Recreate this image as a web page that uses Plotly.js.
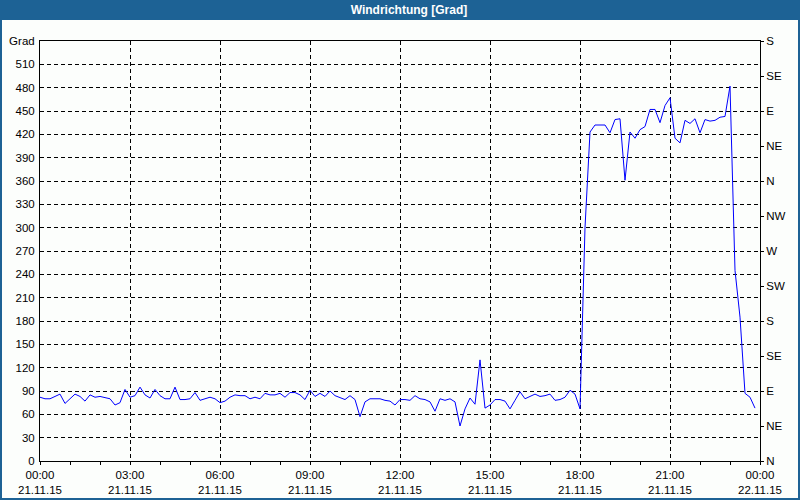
<!DOCTYPE html>
<html>
<head>
<meta charset="utf-8">
<script src="https://cdn.plot.ly/plotly-3.0.1.min.js"></script>
<style>
  html, body { margin: 0; padding: 0; background: #fcfefc; }
  #chart { width: 800px; height: 500px; }
</style>
</head>
<body>
<div id="chart"></div>
<script>
// ---- data ----
const times = [
"2015-11-21 00:00","2015-11-21 00:10","2015-11-21 00:20","2015-11-21 00:30","2015-11-21 00:40","2015-11-21 00:50",
"2015-11-21 01:00","2015-11-21 01:10","2015-11-21 01:20","2015-11-21 01:30","2015-11-21 01:40","2015-11-21 01:50",
"2015-11-21 02:00","2015-11-21 02:10","2015-11-21 02:20","2015-11-21 02:30","2015-11-21 02:40","2015-11-21 02:50",
"2015-11-21 03:00","2015-11-21 03:10","2015-11-21 03:20","2015-11-21 03:30","2015-11-21 03:40","2015-11-21 03:50",
"2015-11-21 04:00","2015-11-21 04:10","2015-11-21 04:20","2015-11-21 04:30","2015-11-21 04:40","2015-11-21 04:50",
"2015-11-21 05:00","2015-11-21 05:10","2015-11-21 05:20","2015-11-21 05:30","2015-11-21 05:40","2015-11-21 05:50",
"2015-11-21 06:00","2015-11-21 06:10","2015-11-21 06:20","2015-11-21 06:30","2015-11-21 06:40","2015-11-21 06:50",
"2015-11-21 07:00","2015-11-21 07:10","2015-11-21 07:20","2015-11-21 07:30","2015-11-21 07:40","2015-11-21 07:50",
"2015-11-21 08:00","2015-11-21 08:10","2015-11-21 08:20","2015-11-21 08:30","2015-11-21 08:40","2015-11-21 08:50",
"2015-11-21 09:00","2015-11-21 09:10","2015-11-21 09:20","2015-11-21 09:30","2015-11-21 09:40","2015-11-21 09:50",
"2015-11-21 10:00","2015-11-21 10:10","2015-11-21 10:20","2015-11-21 10:30","2015-11-21 10:40","2015-11-21 10:50",
"2015-11-21 11:00","2015-11-21 11:10","2015-11-21 11:20","2015-11-21 11:30","2015-11-21 11:40","2015-11-21 11:50",
"2015-11-21 12:00","2015-11-21 12:10","2015-11-21 12:20","2015-11-21 12:30","2015-11-21 12:40","2015-11-21 12:50",
"2015-11-21 13:00","2015-11-21 13:10","2015-11-21 13:20","2015-11-21 13:30","2015-11-21 13:40","2015-11-21 13:50",
"2015-11-21 14:00","2015-11-21 14:10","2015-11-21 14:20","2015-11-21 14:30","2015-11-21 14:40","2015-11-21 14:50",
"2015-11-21 15:00","2015-11-21 15:10","2015-11-21 15:20","2015-11-21 15:30","2015-11-21 15:40","2015-11-21 15:50",
"2015-11-21 16:00","2015-11-21 16:10","2015-11-21 16:20","2015-11-21 16:30","2015-11-21 16:40","2015-11-21 16:50",
"2015-11-21 17:00","2015-11-21 17:10","2015-11-21 17:20","2015-11-21 17:30","2015-11-21 17:40","2015-11-21 17:50",
"2015-11-21 18:00","2015-11-21 18:10","2015-11-21 18:20","2015-11-21 18:30","2015-11-21 18:40","2015-11-21 18:50",
"2015-11-21 19:00","2015-11-21 19:10","2015-11-21 19:20","2015-11-21 19:30","2015-11-21 19:40","2015-11-21 19:50",
"2015-11-21 20:00","2015-11-21 20:10","2015-11-21 20:20","2015-11-21 20:30","2015-11-21 20:40","2015-11-21 20:50",
"2015-11-21 21:00","2015-11-21 21:10","2015-11-21 21:20","2015-11-21 21:30","2015-11-21 21:40","2015-11-21 21:50",
"2015-11-21 22:00","2015-11-21 22:10","2015-11-21 22:20","2015-11-21 22:30","2015-11-21 22:40","2015-11-21 22:50",
"2015-11-21 23:00","2015-11-21 23:10","2015-11-21 23:20","2015-11-21 23:30","2015-11-21 23:40","2015-11-21 23:50"
];

const windDir = [
82, 80, 80, 83, 86, 74, 80, 86, 83, 77, 85, 82,
83, 81, 80, 72, 75, 92, 82, 84, 95, 85, 81, 92,
84, 80, 80, 95, 79, 79, 80, 88, 78, 80, 82, 80,
75, 77, 82, 85, 84, 84, 80, 82, 80, 87, 85, 85,
87, 82, 88, 88, 85, 79, 91, 83, 87, 83, 90, 84,
81, 79, 84, 79, 57, 76, 80, 80, 80, 78, 77, 72,
79, 79, 78, 84, 80, 79, 76, 64, 80, 78, 80, 76,
45, 67, 81, 73, 130, 68, 72, 79, 79, 77, 67, 78,
89, 80, 83, 86, 83, 84, 86, 78, 79, 82, 91, 86,
67, 300, 423, 432, 432, 432, 422, 439, 440, 361, 423, 415,
426, 430, 452, 452, 435, 457, 467, 415, 409, 438, 434, 440,
422, 439, 437, 438, 442, 443, 482, 245, 185, 87, 82, 68
];

const xRange = ["2015-11-21 00:00", "2015-11-22 00:00"];
const gradTickVals = [0,30,60,90,120,150,180,210,240,270,300,330,360,390,420,450,480,510,540];
const gradTickText = ["0","30","60","90","120","150","180","210","240","270","300","330","360","390","420","450","480","510","Grad"];
const dirTickVals = [0,45,90,135,180,225,270,315,360,405,450,495,540];
const dirTickText = ["N","NE","E","SE","S","SW","W","NW","N","NE","E","SE","S"];
const chartTitle = "Windrichtung [Grad]";

// ---- chart ----
const FONT = "Liberation Sans, Arial, sans-serif";
const BLUE = "#1d6295";
const W = 800, H = 500, ML = 40, MR = 40, MT = 41, MB = 39;
const pw = W - ML - MR, ph = H - MT - MB;

const traces = [
  {
    x: times, y: windDir, type: "scatter", mode: "lines",
    line: { color: "#0000ff", width: 1 },
    xaxis: "x", yaxis: "y", hoverinfo: "skip", showlegend: false
  },
  {
    x: times, y: windDir, type: "scatter", mode: "lines",
    line: { color: "rgba(0,0,0,0)", width: 0 },
    xaxis: "x", yaxis: "y2", hoverinfo: "skip", showlegend: false
  }
];

const grid = { showgrid: true, gridcolor: "#000000", gridwidth: 1, griddash: "4px,3px" };

const layout = {
  width: W, height: H,
  margin: { l: ML, r: MR, t: MT, b: MB, pad: 0 },
  paper_bgcolor: "#fcfefc",
  plot_bgcolor: "#fcfefc",
  showlegend: false,
  font: { family: FONT, size: 11.5, color: "#000000" },
  title: {
    text: chartTitle,
    font: { family: FONT, size: 12, color: "#ffffff", weight: "bold" },
    x: 409 / W, xref: "container", xanchor: "center",
    y: 1 - 10 / H, yref: "container", yanchor: "middle"
  },
  xaxis: Object.assign({
    type: "date",
    range: xRange,
    tick0: xRange[0],
    dtick: 3 * 3600000,
    tickformat: "%H:%M<br>%d.%m.%y",
    ticks: "outside", ticklen: 3, tickcolor: "#000000", tickwidth: 1,
    minor: { dtick: 3600000, ticks: "outside", ticklen: 3, tickcolor: "#000000", showgrid: false },
    showline: true, linecolor: "#000000", linewidth: 1, mirror: true,
    zeroline: false, fixedrange: true,
    tickfont: { family: FONT, size: 11.5, color: "#000000" }
  }, grid),
  yaxis: Object.assign({
    range: [0, 540],
    tickmode: "array", tickvals: gradTickVals, ticktext: gradTickText,
    ticks: "", ticklabelstandoff: 2,
    showline: true, linecolor: "#000000", linewidth: 1,
    zeroline: false, fixedrange: true,
    tickfont: { family: FONT, size: 11.5, color: "#000000" }
  }, grid),
  yaxis2: {
    overlaying: "y", side: "right",
    range: [0, 540],
    tickmode: "array", tickvals: dirTickVals, ticktext: dirTickText,
    ticks: "outside", ticklen: 3, tickcolor: "#000000",
    showgrid: false, showline: true, linecolor: "#000000", linewidth: 1,
    zeroline: false, fixedrange: true,
    tickfont: { family: FONT, size: 11.5, color: "#000000" }
  },
  shapes: [
    { type: "rect", xref: "paper", yref: "paper", layer: "below",
      x0: -ML / pw, x1: (W - ML) / pw, y0: (ph + MT - 20) / ph, y1: (ph + MT) / ph,
      fillcolor: BLUE, line: { width: 0 } },
    { type: "rect", xref: "paper", yref: "paper", layer: "above",
      x0: -ML / pw, x1: (W - ML) / pw, y0: -MB / ph, y1: (ph + MT) / ph,
      fillcolor: "rgba(0,0,0,0)", line: { color: BLUE, width: 4 } }
  ]
};

Plotly.newPlot("chart", traces, layout, { staticPlot: true, displayModeBar: false });
</script>
</body>
</html>
